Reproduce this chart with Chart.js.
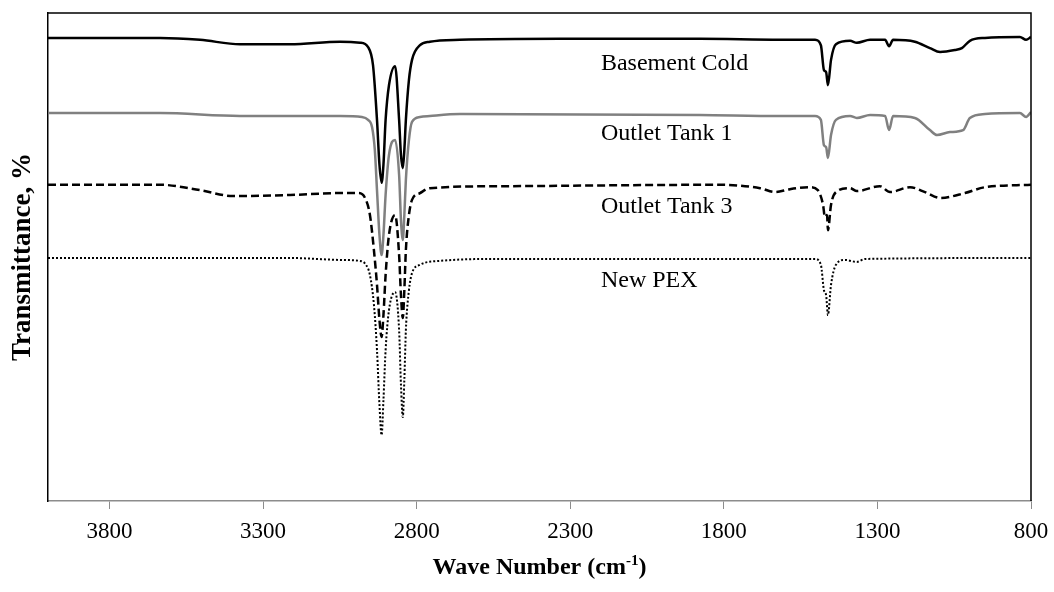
<!DOCTYPE html>
<html>
<head>
<meta charset="utf-8">
<script src="https://cdn.jsdelivr.net/npm/chart.js@4.4.0/dist/chart.umd.min.js"></script>
<style>
  html, body { margin: 0; padding: 0; background: #fff; }
  #ftir-chart { display: block; }
</style>
</head>
<body>
<canvas id="ftir-chart" width="1054" height="592"></canvas>
<script>
// FTIR spectra, offset transmittance per sample (wave number in cm-1)
const basementWave = [4000, 3635, 3505, 3375, 3212, 3049, 2984, 2958, 2942, 2929, 2921, 2914, 2908, 2901, 2890, 2870,
  2857, 2851, 2845, 2840, 2835, 2825, 2815, 2789, 2757, 2659, 2333, 1878, 1617, 1503, 1484, 1474, 1467, 1461, 1451,
  1435, 1389, 1367, 1324, 1275, 1262, 1249, 1178, 1129, 1096, 1048, 1025, 999, 950, 836, 816, 800];
const basementT = [94.9, 94.9, 94.5, 93.6, 93.6, 94.1, 93.9, 93.0, 89.3, 78.1, 68.9, 65.2, 68.9, 78.1, 85.2, 89.1,
  78.1, 70.9, 68.2, 71.9, 78.1, 86.3, 90.4, 93.4, 94.1, 94.5, 94.7, 94.7, 94.5, 94.5, 93.4, 88.3, 87.9, 85.2, 90.4,
  93.6, 94.3, 93.9, 94.5, 94.5, 93.2, 94.5, 94.1, 92.8, 92.0, 92.4, 92.8, 94.3, 94.9, 95.1, 94.5, 95.1];

const tank1Wave = [4000, 3635, 3375, 3049, 2978, 2958, 2945, 2936, 2929, 2921, 2914, 2908, 2901, 2890, 2870, 2857,
  2851, 2845, 2840, 2835, 2825, 2815, 2789, 2757, 2659, 1878, 1617, 1503, 1484, 1474, 1467, 1461, 1451, 1435, 1389,
  1367, 1324, 1275, 1262, 1249, 1178, 1129, 1106, 1064, 1021, 999, 950, 836, 816, 800];
const tank1T = [79.5, 79.5, 78.9, 78.9, 78.7, 78.1, 76.6, 71.9, 63.7, 54.5, 50.4, 54.5, 62.7, 70.9, 74.0, 66.8,
  57.6, 53.5, 58.6, 65.8, 74.0, 77.7, 78.7, 78.9, 79.3, 79.1, 78.9, 78.9, 78.1, 72.9, 72.5, 70.3, 75.0, 78.1, 78.9,
  78.5, 79.1, 78.9, 76.0, 78.9, 78.5, 76.0, 75.0, 75.6, 76.0, 78.5, 79.3, 79.5, 78.7, 79.7];

const tank3Wave = [4000, 3635, 3505, 3398, 3212, 3049, 2991, 2968, 2952, 2939, 2929, 2921, 2914, 2908, 2901, 2890,
  2870, 2857, 2851, 2845, 2840, 2835, 2825, 2815, 2789, 2757, 2529, 1813, 1682, 1633, 1585, 1520, 1494, 1477, 1471,
  1464, 1461, 1451, 1435, 1389, 1367, 1292, 1259, 1194, 1145, 1096, 1015, 950, 800];
const tank3T = [64.8, 64.8, 63.7, 62.5, 62.7, 63.1, 63.1, 62.1, 58.6, 51.4, 44.3, 37.1, 33.6, 38.1, 46.3, 54.5,
  58.6, 50.4, 42.2, 37.5, 43.2, 51.4, 58.6, 61.7, 63.1, 64.1, 64.5, 64.8, 64.1, 63.3, 63.9, 64.3, 63.7, 60.7, 58.2,
  58.6, 55.5, 60.7, 63.3, 64.1, 63.5, 64.5, 63.3, 64.3, 63.3, 62.1, 63.1, 64.3, 64.8];

const pexWave = [4000, 3212, 3049, 2984, 2965, 2952, 2939, 2929, 2921, 2914, 2908, 2901, 2890, 2870, 2857, 2851,
  2845, 2840, 2835, 2825, 2815, 2789, 2724, 2529, 1503, 1484, 1474, 1467, 1461, 1451, 1435, 1406, 1367, 1340, 800];
const pexT = [49.8, 49.8, 49.4, 49.2, 48.4, 46.3, 40.2, 30.9, 19.7, 13.5, 20.7, 30.9, 39.1, 42.8, 35.0, 23.8,
  17.2, 24.8, 35.0, 43.2, 46.7, 48.4, 49.2, 49.6, 49.6, 48.4, 43.2, 42.2, 38.1, 44.3, 48.4, 49.4, 49.0, 49.6, 49.8];

const xTicks = [3800, 3300, 2800, 2300, 1800, 1300, 800];

// sample names written next to each trace
const curveLabels = [
  { text: 'Basement Cold', wave: 2200, t: 88.3 },
  { text: 'Outlet Tank 1', wave: 2200, t: 74.0 },
  { text: 'Outlet Tank 3', wave: 2200, t: 59.0 },
  { text: 'New PEX', wave: 2200, t: 43.9 }
];

const SERIF = '"Liberation Serif", "Times New Roman", serif';
Chart.defaults.font.family = SERIF;
Chart.defaults.color = '#000';

const toPoints = (xs, ys) => xs.map((w, i) => ({ x: w, y: ys[i] }));

const decorations = {
  id: 'decorations',
  afterDraw(chart) {
    const { ctx, chartArea: a, scales: { x, y } } = chart;
    ctx.save();

    // top and right edges of the frame
    ctx.strokeStyle = '#000';
    ctx.lineWidth = 1.5;
    ctx.beginPath();
    ctx.moveTo(a.left, a.top);
    ctx.lineTo(a.right, a.top);
    ctx.lineTo(a.right, a.bottom);
    ctx.stroke();

    // trace names
    ctx.fillStyle = '#000';
    ctx.font = '24px ' + SERIF;
    ctx.textAlign = 'left';
    ctx.textBaseline = 'alphabetic';
    curveLabels.forEach(l => {
      ctx.fillText(l.text, x.getPixelForValue(l.wave), y.getPixelForValue(l.t));
    });

    // x axis title with superscript
    const main = 'Wave Number (cm';
    const sup = '-1';
    const close = ')';
    const bigFont = 'bold 24px ' + SERIF;
    const smallFont = 'bold 15px ' + SERIF;
    ctx.font = bigFont;
    const wMain = ctx.measureText(main).width;
    const wClose = ctx.measureText(close).width;
    ctx.font = smallFont;
    const wSup = ctx.measureText(sup).width;
    let tx = (a.left + a.right) / 2 - (wMain + wSup + wClose) / 2;
    const base = 574;
    ctx.font = bigFont;
    ctx.fillText(main, tx, base);
    tx += wMain;
    ctx.font = smallFont;
    ctx.fillText(sup, tx, base - 9);
    tx += wSup;
    ctx.font = bigFont;
    ctx.fillText(close, tx, base);

    // y axis title
    ctx.translate(23, (a.top + a.bottom) / 2);
    ctx.rotate(-Math.PI / 2);
    ctx.textAlign = 'center';
    ctx.textBaseline = 'middle';
    ctx.font = 'bold 27px ' + SERIF;
    ctx.fillText('Transmittance, %', 0, 0);

    ctx.restore();
  }
};

const canvas = document.getElementById('ftir-chart');
const ctx = canvas.getContext('2d');

const ftirChart = new Chart(ctx, {
  type: 'line',
  data: {
    datasets: [
      { label: 'Basement Cold', data: toPoints(basementWave, basementT), borderColor: '#000', borderWidth: 2.5 },
      { label: 'Outlet Tank 1', data: toPoints(tank1Wave, tank1T), borderColor: '#808080', borderWidth: 2.5 },
      { label: 'Outlet Tank 3', data: toPoints(tank3Wave, tank3T), borderColor: '#000', borderWidth: 2.5, borderDash: [8, 4] },
      { label: 'New PEX', data: toPoints(pexWave, pexT), borderColor: '#000', borderWidth: 2, borderDash: [2, 2] }
    ]
  },
  options: {
    responsive: false,
    animation: false,
    layout: { padding: { top: 13, right: 23, left: 0, bottom: 0 } },
    elements: {
      point: { radius: 0 },
      line: { cubicInterpolationMode: 'monotone', fill: false }
    },
    plugins: {
      legend: { display: false },
      tooltip: { enabled: false }
    },
    scales: {
      x: {
        type: 'linear',
        reverse: true,
        min: 800,
        max: 4000,
        afterBuildTicks: scale => { scale.ticks = xTicks.map(v => ({ value: v })); },
        afterFit: scale => {
          scale.height = 91;
          scale.paddingLeft = 0;
          scale.paddingRight = 0;
        },
        grid: { drawOnChartArea: false, drawTicks: true, tickLength: 8, color: '#8c8c8c', lineWidth: 1 },
        border: { color: '#8c8c8c', width: 1.5 },
        ticks: {
          autoSkip: false,
          maxRotation: 0,
          padding: 9,
          color: '#000',
          font: { size: 23 },
          callback: value => String(value)
        }
      },
      y: {
        min: 0,
        max: 100,
        afterFit: scale => { scale.width = 48; },
        grid: { display: false },
        ticks: { display: false },
        border: { color: '#000', width: 1.5 }
      }
    }
  },
  plugins: [decorations]
});
</script>
</body>
</html>
